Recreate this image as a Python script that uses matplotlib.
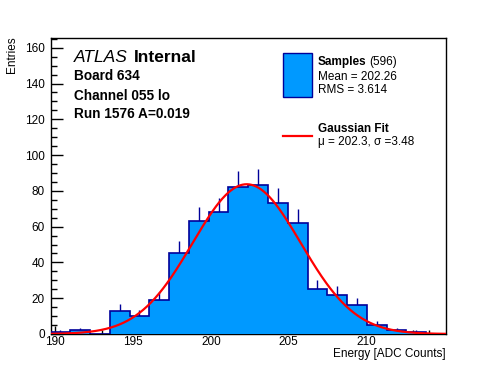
import numpy as np
import matplotlib
matplotlib.use("Agg")
import matplotlib.pyplot as plt

plt.rcParams["font.family"] = ["Liberation Sans", "DejaVu Sans"]

# histogram: 20 bins over the x range
X_MIN, X_MAX = 189.7, 215.1
counts = [1, 2, 0, 13, 10, 19, 45, 63, 68, 82, 83, 73, 62, 25, 22, 16, 5, 2, 1, 0]
edges = np.linspace(X_MIN, X_MAX, len(counts) + 1)

# gaussian fit parameters
fit_mu, fit_sigma, fit_amp = 202.3, 3.48, 83.7

n_entries = 596
mean_text = "202.26"
rms_text = "3.614"

x_ticks = [190, 195, 200, 205, 210]
y_ticks = [0, 20, 40, 60, 80, 100, 120, 140, 160]

FILL = "#0099ff"
EDGE = "#000099"
W, H = 496, 372


def px(x, y):
    return x / W, 1 - y / H


fig = plt.figure(figsize=(4.96, 3.72), dpi=100)
ax = fig.add_axes([50.5 / W, 1 - 334 / H, (446 - 50.5) / W, (334 - 37.7) / H])

counts = np.array(counts, dtype=float)
centers = 0.5 * (edges[:-1] + edges[1:])
err = np.sqrt(counts)
mask = counts > 0
ax.vlines(centers[mask], counts[mask], counts[mask] + err[mask], color=EDGE, lw=1, zorder=2)
ax.stairs(counts, edges, fill=True, color=FILL, zorder=3)
ax.stairs(counts, edges, color=EDGE, lw=1.2, zorder=4)

xf = np.linspace(X_MIN, X_MAX, 500)
ax.plot(xf, fit_amp * np.exp(-0.5 * ((xf - fit_mu) / fit_sigma) ** 2),
        color="red", lw=1.6, zorder=5)

ax.set_xlim(X_MIN, X_MAX)
ax.set_ylim(0, 165.6)
ax.set_xticks(x_ticks)
ax.set_yticks(y_ticks)
ax.set_xticks(np.arange(190, 215, 1), minor=True)
ax.set_yticks(np.arange(0, 166, 5), minor=True)
ax.tick_params(which="both", direction="in", labelsize=8.5, width=1)
ax.tick_params(axis="y", which="major", length=8.5, pad=4)
ax.tick_params(axis="y", which="minor", length=4)
ax.tick_params(axis="x", which="major", length=6, pad=1.5)
ax.tick_params(axis="x", which="minor", length=3)
for s in ax.spines.values():
    s.set_linewidth(1)

fig.text(*px(12.5, 36.7), "Entries", rotation=90, ha="center", va="top", fontsize=8.5)
fig.text(*px(446, 354), "Energy [ADC Counts]", ha="right", va="center", fontsize=8.5)

# labels top left
fig.text(*px(74, 57.5), "ATLAS", style="italic", fontsize=12.5, va="center")
fig.text(*px(134, 57.5), "Internal", weight="bold", fontsize=12.5, va="center")
fig.text(*px(74, 76), "Board 634", weight="bold", fontsize=9.8, va="center")
fig.text(*px(74, 95.5), "Channel 055 lo", weight="bold", fontsize=9.8, va="center")
fig.text(*px(74, 114), "Run 1576 A=0.019", weight="bold", fontsize=9.8, va="center")

# legend
ax_leg = fig.add_axes([0, 0, 1, 1], facecolor="none")
ax_leg.set_xlim(0, W)
ax_leg.set_ylim(H, 0)
ax_leg.axis("off")
ax_leg.add_patch(plt.Rectangle((283.3, 53.3), 28.4, 43.4, facecolor=FILL, edgecolor=EDGE, lw=1))
ax_leg.plot([283.3, 311.7], [136, 136], color="red", lw=1.6)
ax_leg.text(317.7, 61.7, "Samples", weight="bold", fontsize=8.5, va="center")
ax_leg.text(369.5, 61.7, f"({n_entries})", fontsize=8.5, va="center")
ax_leg.text(317.7, 76.7, f"Mean = {mean_text}", fontsize=8.5, va="center")
ax_leg.text(317.7, 90, f"RMS = {rms_text}", fontsize=8.5, va="center")
ax_leg.text(317.7, 129.3, "Gaussian Fit", weight="bold", fontsize=8.5, va="center")
ax_leg.text(317.7, 141.7, f"\u03bc = {fit_mu}, \u03c3 ={fit_sigma}", fontsize=8.5, va="center")

fig.savefig("out.png", dpi=100)
